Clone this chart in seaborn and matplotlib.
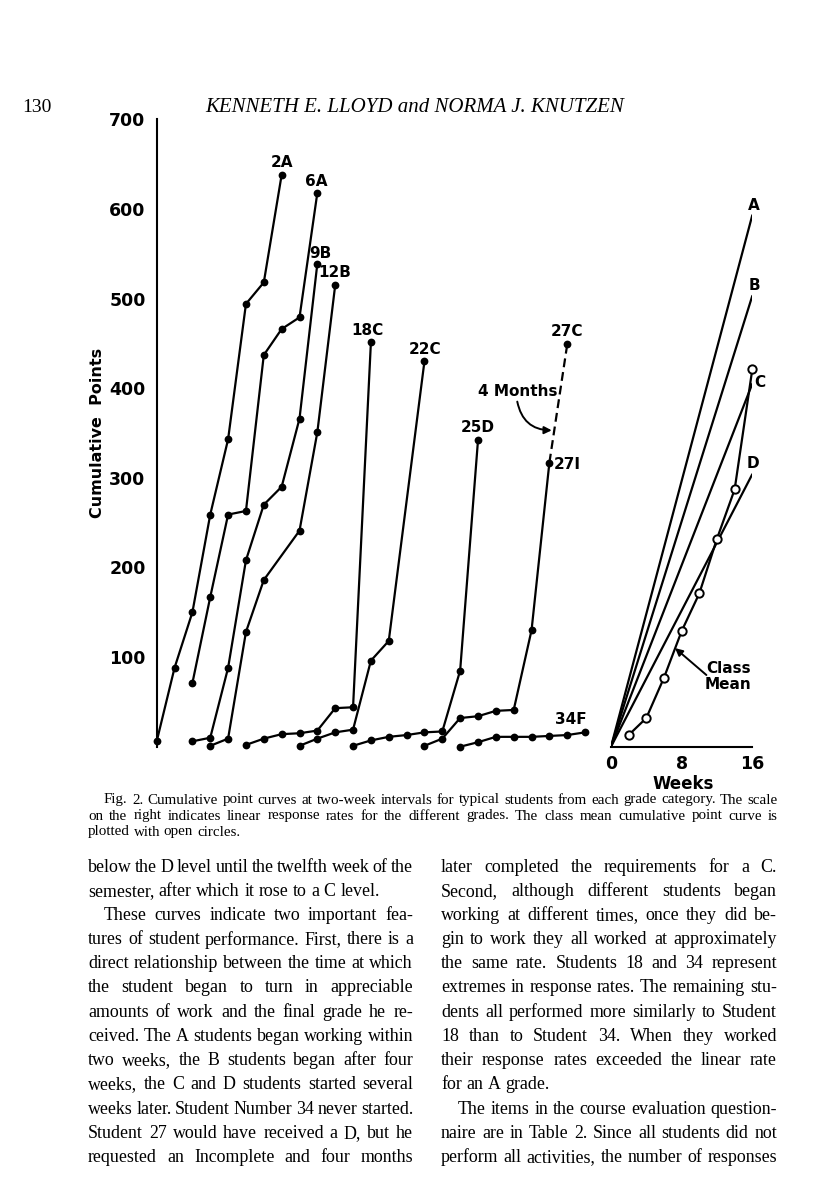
import matplotlib
matplotlib.use("Agg")
import matplotlib.pyplot as plt
import pandas as pd
import seaborn as sns

# cumulative points at two-week intervals (x = interval slot on the page)
s2A_x = [0, 1, 2, 3, 4, 5, 6, 7]
s2A_y = [6, 88, 150, 259, 343, 494, 518, 638]
s6A_x = [2, 3, 4, 5, 6, 7, 8, 9]
s6A_y = [71, 167, 259, 263, 437, 466, 479, 618]
s9B_x = [2, 3, 4, 5, 6, 7, 8, 9]
s9B_y = [6, 10, 88, 208, 270, 290, 366, 539]
s12B_x = [3, 4, 5, 6, 8, 9, 10]
s12B_y = [1, 9, 128, 186, 241, 351, 515]
s18C_x = [5, 6, 7, 8, 9, 10, 11, 12]
s18C_y = [2, 9, 14, 15, 18, 43, 44, 451]
s22C_x = [8, 9, 10, 11, 12, 13, 15]
s22C_y = [1, 9, 16, 19, 96, 118, 430]
s25D_x = [11, 12, 13, 14, 15, 16, 17, 18]
s25D_y = [1, 7, 11, 13, 16, 17, 85, 342]
s27I_x = [15, 16, 17, 18, 19, 20, 21, 22]
s27I_y = [1, 9, 32, 34, 40, 41, 130, 317]
s27C_x = [22, 23]          # after the 4 month incomplete
s27C_y = [317, 449]
s34F_x = [17, 18, 19, 20, 21, 22, 23, 24]
s34F_y = [0, 5, 11, 11, 11, 12, 13, 16]

students = ["2A", "6A", "9B", "12B", "18C", "22C", "25D", "27I", "34F"]
xs = [s2A_x, s6A_x, s9B_x, s12B_x, s18C_x, s22C_x, s25D_x, s27I_x, s34F_x]
ys = [s2A_y, s6A_y, s9B_y, s12B_y, s18C_y, s22C_y, s25D_y, s27I_y, s34F_y]

# right hand scale: linear rates per grade over 16 weeks
grades = ["A", "B", "C", "D"]
grade_end = [593, 503, 405, 304]
mean_weeks = [2, 4, 6, 8, 10, 12, 14, 16]
mean_points = [13, 32, 77, 129, 171, 232, 287, 421]

rows = []
for name, x, y in zip(students, xs, ys):
    for a, b in zip(x, y):
        rows.append((name, a, b))
df = pd.DataFrame(rows, columns=["student", "slot", "points"])

sns.set_style("white")
plt.rcParams["font.family"] = ["DejaVu Sans"]
plt.rcParams["text.color"] = "black"
plt.rcParams["xtick.color"] = "black"
plt.rcParams["ytick.color"] = "black"
plt.rcParams["axes.edgecolor"] = "black"

W, H = 816, 1191
fig = plt.figure(figsize=(W / 100, H / 100), dpi=100)
fx = lambda px: px / W
fy = lambda py: 1 - py / H

x0_px, step_px, zero_px, top_px = 156.7, 17.85, 746.7, 119.3
ax = fig.add_axes([fx(x0_px), fy(zero_px), (600 - x0_px) / W, (zero_px - top_px) / H])
ax.set_xlim(0, (600 - x0_px) / step_px)
ax.set_ylim(0, 700)

sns.lineplot(data=df, x="slot", y="points", units="student", estimator=None,
             color="black", lw=1.6, marker="o", markersize=5.6, mec="black",
             mew=0, ax=ax, clip_on=False, legend=False)
ax.plot(s27C_x, s27C_y, color="black", lw=1.6, ls=(0, (4, 2.2)), clip_on=False)
ax.plot(s27C_x[-1:], s27C_y[-1:], "o", color="black", ms=5.6, mew=0, clip_on=False)

# student labels at the final point of each curve (offsets in px)
lab_off = {"2A": (0, 12), "6A": (-1, 11), "9B": (3, 10), "12B": (0, 13),
           "18C": (-3, 12), "22C": (1, 12), "25D": (0, 13), "34F": (-14, 13)}
for name, x, y in zip(students, xs, ys):
    if name in lab_off:
        dx, dy = lab_off[name]
        ax.annotate(name, (x[-1], y[-1]), xytext=(dx * 0.72, dy * 0.72),
                    textcoords="offset points", ha="center", va="center",
                    fontsize=11, fontweight="bold")
ax.annotate("27I", (s27I_x[-1], s27I_y[-1]), xytext=(3, -1.5), textcoords="offset points",
            ha="left", va="center", fontsize=11, fontweight="bold")
ax.annotate("27C", (s27C_x[-1], s27C_y[-1]), xytext=(0, 9.3), textcoords="offset points",
            ha="center", va="center", fontsize=11, fontweight="bold")
ax.annotate("", xy=(22.13, 353), xytext=(20.2, 385),
            arrowprops=dict(arrowstyle="-|>", color="black", lw=1.4,
                            connectionstyle="arc3,rad=0.4", mutation_scale=11,
                            shrinkA=0, shrinkB=0))
ax.text(20.24, 396, "4 Months", ha="center", va="center", fontsize=11, fontweight="bold")

ax.set_xticks([])
ax.set_yticks(range(100, 701, 100))
ax.tick_params(axis="y", direction="in", length=7, width=1.4, pad=8, labelsize=12.5)
for t in ax.get_yticklabels():
    t.set_fontweight("bold")
for s in ["top", "right", "bottom"]:
    ax.spines[s].set_visible(False)
ax.spines["left"].set_linewidth(1.5)
ax.set_xlabel("")
ax.set_ylabel("")
fig.text(fx(97), fy(433), "Cumulative  Points", rotation=90, ha="center", va="center",
         fontsize=11.5, fontweight="bold")

# right hand panel
axr = fig.add_axes([fx(611), fy(zero_px), 141.3 / W, (zero_px - top_px) / H])
axr.set_xlim(0, 16)
axr.set_ylim(0, 700)
for g, v in zip(grades, grade_end):
    sns.lineplot(x=[0, 16], y=[0, v], color="black", lw=1.6, ax=axr)
sns.lineplot(x=mean_weeks, y=mean_points, color="black", lw=1.6, marker="o",
             markersize=6, mfc="white", mec="black", mew=1.4, ax=axr, clip_on=False)
lab_pos = {"A": (16.2, 604), "B": (16.27, 515), "C": (16.8, 406), "D": (16.05, 316)}
for g in grades:
    axr.text(*lab_pos[g], g, ha="center", va="center", fontsize=11, fontweight="bold")
axr.annotate("", xy=(7.25, 110), xytext=(10.8, 80),
             arrowprops=dict(arrowstyle="-|>", color="black", lw=1.4,
                             mutation_scale=11, shrinkA=0, shrinkB=0))
axr.text(13.3, 78, "Class\nMean", ha="center", va="center", fontsize=11,
         fontweight="bold", linespacing=1.05)
axr.set_xticks([0, 8, 16])
axr.set_xticklabels(["0", "8", "16"])
axr.set_yticks([])
axr.tick_params(axis="x", direction="in", length=7, width=1.4, pad=6, labelsize=12.5)
for t in axr.get_xticklabels():
    t.set_fontweight("bold")
for s in ["top", "right", "left"]:
    axr.spines[s].set_visible(False)
axr.spines["bottom"].set_linewidth(1.5)
axr.set_xlabel("")
axr.set_ylabel("")
fig.text(fx(683), fy(784), "Weeks", ha="center", va="center", fontsize=12, fontweight="bold")

# page text
serif = "Liberation Serif"
fig.text(fx(22), fy(108), "130", ha="left", va="center", fontsize=14, family=serif)
fig.text(fx(415), fy(108), "KENNETH E. LLOYD and NORMA J. KNUTZEN", ha="center",
         va="center", fontsize=15, family=serif, style="italic")

renderer = fig.canvas.get_renderer()


def put_line(text, x0, x1, y, size, justify=True):
    words = text.split()
    objs = [fig.text(0, fy(y), w, ha="left", va="center", fontsize=size, family=serif)
            for w in words]
    widths = [o.get_window_extent(renderer).width for o in objs]
    gap = size * 100 / 72 * 0.25
    if justify and len(words) > 1:
        gap = max((x1 - x0 - sum(widths)) / (len(words) - 1), gap * 0.5)
    x = x0
    for o, w in zip(objs, widths):
        o.set_x(fx(x))
        x += w + gap


caption = [
    ("Fig. 2. Cumulative point curves at two-week intervals for typical students from each grade category. The scale", 104, True),
    ("on the right indicates linear response rates for the different grades. The class mean cumulative point curve is", 88, True),
    ("plotted with open circles.", 88, False),
]
for i, (txt, x0, j) in enumerate(caption):
    put_line(txt, x0, 778, 800 + 16 * i, 10.8, j)

left_col = [
    ("below the D level until the twelfth week of the", 88, True),
    ("semester, after which it rose to a C level.", 88, False),
    ("These curves indicate two important fea-", 104, True),
    ("tures of student performance. First, there is a", 88, True),
    ("direct relationship between the time at which", 88, True),
    ("the student began to turn in appreciable", 88, True),
    ("amounts of work and the final grade he re-", 88, True),
    ("ceived. The A students began working within", 88, True),
    ("two weeks, the B students began after four", 88, True),
    ("weeks, the C and D students started several", 88, True),
    ("weeks later. Student Number 34 never started.", 88, True),
    ("Student 27 would have received a D, but he", 88, True),
    ("requested an Incomplete and four months", 88, True),
]
right_col = [
    ("later completed the requirements for a C.", 441, True),
    ("Second, although different students began", 441, True),
    ("working at different times, once they did be-", 441, True),
    ("gin to work they all worked at approximately", 441, True),
    ("the same rate. Students 18 and 34 represent", 441, True),
    ("extremes in response rates. The remaining stu-", 441, True),
    ("dents all performed more similarly to Student", 441, True),
    ("18 than to Student 34. When they worked", 441, True),
    ("their response rates exceeded the linear rate", 441, True),
    ("for an A grade.", 441, False),
    ("The items in the course evaluation question-", 458, True),
    ("naire are in Table 2. Since all students did not", 441, True),
    ("perform all activities, the number of responses", 441, True),
]
for i, (txt, x0, j) in enumerate(left_col):
    put_line(txt, x0, 413, 867 + 24.2 * i, 12.9, j)
for i, (txt, x0, j) in enumerate(right_col):
    put_line(txt, x0, 777, 867 + 24.2 * i, 12.9, j)

fig.savefig("out.png", dpi=100)
